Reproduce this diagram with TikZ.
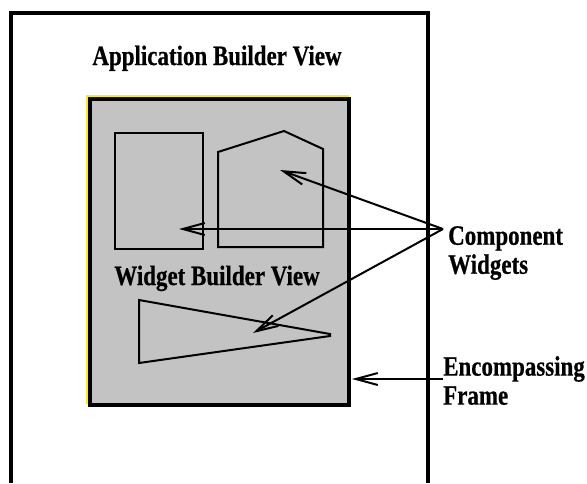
\documentclass[tikz,border=0pt]{standalone}
\usepackage{fontspec}
\usetikzlibrary{arrows.meta}
\newfontfamily\labfont{Liberation Serif}[FakeStretch=0.82,FakeBold=0.6]
\definecolor{panelgray}{RGB}{195,195,195}
\definecolor{edgeyellow}{RGB}{255,240,0}
\tikzset{
  lab/.style={font=\labfont\bfseries\fontsize{28}{29}\selectfont, inner sep=0pt, align=left},
  widgetshape/.style={draw=black, line width=2pt, line join=miter},
  pointer/.style={draw=black, line width=2pt, -{Straight Barb[length=22pt,width=12pt,line width=2pt]}},
}
\begin{document}
\begin{tikzpicture}[x=1pt,y=-1pt]
\useasboundingbox (0,0) rectangle (587,483);
\fill[white] (0,0) rectangle (587,483);

% outer application frame, open at the bottom
\draw[line width=4pt] (10.5,483) -- (10.5,12.5) -- (428,12.5) -- (428,483);
\node[lab, anchor=base] (appview) at (217,65) {Application Builder View};

% widget builder panel
\draw[edgeyellow, line width=3.5pt] (87.5,97) rectangle (347,402.5);
\draw[fill=panelgray, line width=4pt] (89.5,99) rectangle (349,404.5);
\node[lab, anchor=base] (wbview) at (217,285) {Widget Builder View};

% component widgets
\draw[widgetshape] (115,133) rectangle (203,249);
\draw[widgetshape] (218,247) -- (218,152) -- (284,131) -- (323,149) -- (323,247) -- cycle;
\draw[widgetshape, miter limit=4] (139,300) -- (330,334) -- (330,336) -- (139,363) -- cycle;

% labels on the right
\node[lab, anchor=north west] (comp) at (448,226) {Component\\Widgets};
\node[lab, anchor=north west] (frame) at (443,356) {Encompassing\\Frame};

\coordinate (compfrom) at (443,229);
\coordinate (recttip) at (179,229);
\coordinate (housetip) at (280,170);
\coordinate (tritip) at (253,333);
\coordinate (framefrom) at (443,379);
\coordinate (frametip) at (352,379);

\draw[pointer] (compfrom) -- (recttip);
\draw[pointer] (compfrom) -- (housetip);
\draw[pointer] (compfrom) -- (tritip);
\draw[pointer] (framefrom) -- (frametip);
\end{tikzpicture}
\end{document}
